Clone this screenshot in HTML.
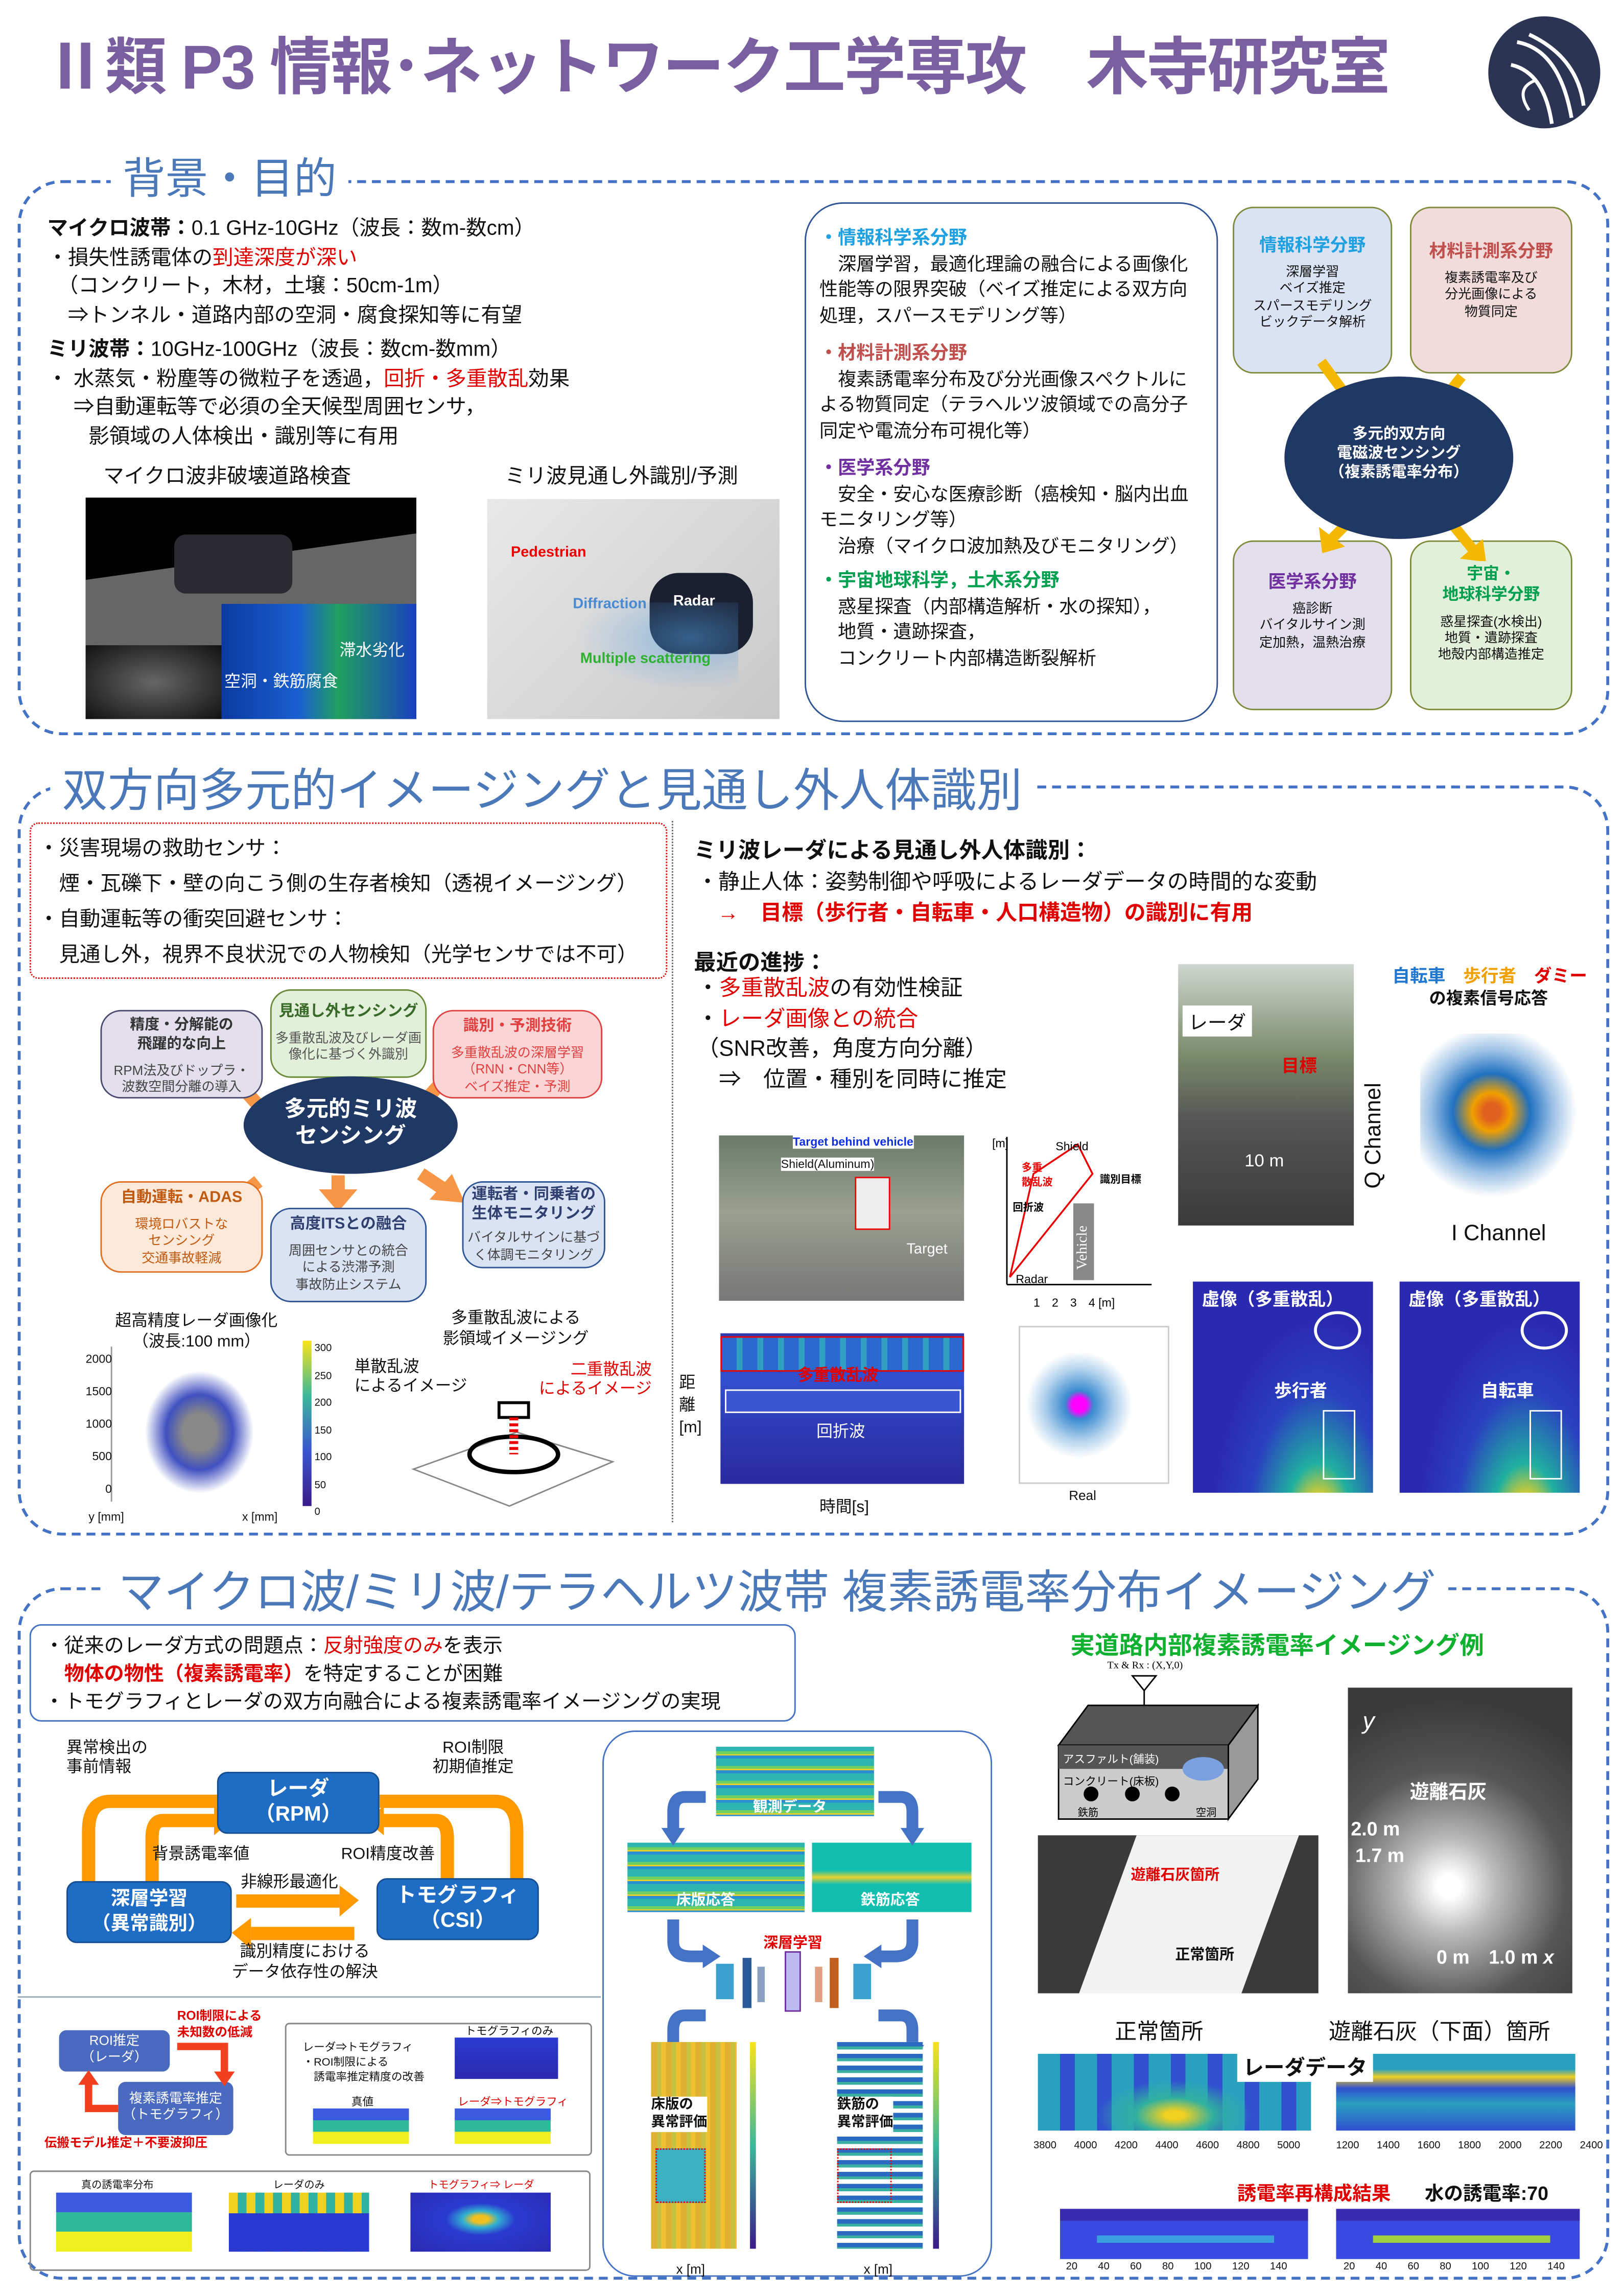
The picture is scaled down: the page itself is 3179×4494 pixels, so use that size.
<!DOCTYPE html>
<html><head><meta charset="utf-8">
<style>
html,body{margin:0;padding:0;width:3179px;height:4494px;overflow:hidden;background:#fff}
#w{position:absolute;left:0;top:0;width:1100px;height:1555px;transform:scale(2.89);transform-origin:0 0;font-family:"Liberation Sans","Noto Sans CJK JP",sans-serif;color:#111}
.a{position:absolute;white-space:nowrap}
.dash{position:absolute;border:2.5px dashed #4472c4;border-radius:30px}
.h{position:absolute;background:#fff;color:#4a78b8;padding:0 8px;white-space:nowrap}
.r{color:#e00000}
.b{font-weight:bold}
.bx{position:absolute;border-radius:14px;text-align:center;font-size:9px;line-height:1.25}
.bx b{display:block;font-size:10.5px;margin:4px 0 5px}
.parula{background:linear-gradient(180deg,#2f3ab0,#3050d0 30%,#2d3bb5 60%,#2a2aa0)}
.jet{background:repeating-linear-gradient(180deg,#2db5b0 0 3px,#6fcf60 3px 5px,#e6d030 5px 6px,#2a8fd0 6px 8px,#2db5b0 8px 10px)}
.fb{position:absolute;background:#1e6cc4;color:#fff;border-radius:7px;text-align:center;font-weight:bold;border:1.5px solid #154f93}
</style></head><body><div id="w">

<!-- Title -->
<div class="a b" style="left:30px;top:12px;font-size:42px;color:#7a5fa0;letter-spacing:-1px">Ⅱ類 P3 情報･ネットワーク工学専攻　木寺研究室</div>
<svg class="a" style="left:1005px;top:8px" width="82" height="82" viewBox="0 0 80 80"><circle cx="40" cy="40" r="37" fill="#2b3553"/><path d="M22 20 Q50 25 58 70 M30 15 Q62 30 66 62 M18 35 Q40 40 45 74" stroke="#fff" stroke-width="2.5" fill="none"/><path d="M35 45 Q20 50 30 65" stroke="#fff" stroke-width="2" fill="none"/></svg>

<!-- Section 1 -->
<div class="dash" style="left:12px;top:122px;width:1074px;height:372px"></div>
<div class="h" style="left:75px;top:98px;font-size:29px">背景・目的</div>
<div class="a" style="left:32px;top:145px;font-size:14px;line-height:19.5px">
<b>マイクロ波帯：</b>0.1 GHz-10GHz（波長：数m-数cm）<br>・損失性誘電体の<span class="r">到達深度が深い</span><br>　（コンクリート，木材，土壌：50cm-1m）<br>　⇒トンネル・道路内部の空洞・腐食探知等に有望<br>
<div style="height:4px"></div><b>ミリ波帯：</b>10GHz-100GHz（波長：数cm-数mm）<br>・ 水蒸気・粉塵等の微粒子を透過，<span class="r">回折・多重散乱</span>効果<br>　 ⇒自動運転等で必須の全天候型周囲センサ，<br>　　影領域の人体検出・識別等に有用</div>
<div class="a" style="left:70px;top:312px;font-size:14px">マイクロ波非破壊道路検査</div>
<div class="a" style="left:342px;top:312px;font-size:14px">ミリ波見通し外識別/予測</div>
<div class="a" style="left:58px;top:337px;width:224px;height:150px;background:#000;overflow:hidden">
<div style="position:absolute;left:0;top:40px;width:224px;height:60px;background:#666;transform:skewY(-8deg)"></div>
<div style="position:absolute;left:60px;top:25px;width:80px;height:40px;background:#2a2a30;border-radius:8px"></div>
<div style="position:absolute;left:92px;top:72px;width:132px;height:78px;background:linear-gradient(90deg,#0a3aa0,#1a60d0 40%,#20a060 60%,#1840c0)"></div>
<div style="position:absolute;left:0;top:100px;width:92px;height:50px;background:radial-gradient(#666,#111)"></div>
<div class="a" style="left:172px;top:95px;font-size:11px;color:#fff">滞水劣化</div>
<div class="a" style="left:94px;top:116px;font-size:11px;color:#fff">空洞・鉄筋腐食</div></div>
<div class="a" style="left:330px;top:338px;width:198px;height:149px;background:linear-gradient(135deg,#e8e8e8,#c8c8c8);overflow:hidden">
<div style="position:absolute;left:110px;top:50px;width:70px;height:55px;background:#1a2030;border-radius:20px"></div>
<div style="position:absolute;left:60px;top:70px;width:110px;height:60px;background:radial-gradient(ellipse at 70% 40%,rgba(80,160,230,.5),transparent 70%)"></div>
<div class="a b" style="left:16px;top:31px;font-size:10px;color:#e00">Pedestrian</div>
<div class="a b" style="left:58px;top:66px;font-size:10px;color:#4a8ad0">Diffraction</div>
<div class="a b" style="left:126px;top:64px;font-size:10px;color:#fff">Radar</div>
<div class="a b" style="left:63px;top:103px;font-size:10px;color:#30b030">Multiple scattering</div></div>

<div class="a" style="left:545px;top:137px;width:278px;height:350px;border:1.5px solid #2f5597;border-radius:26px"></div>
<div class="a" style="left:555px;top:153px;font-size:12.5px;line-height:17.5px">
<b style="color:#1fa0e0">・情報科学系分野</b><br>　深層学習，最適化理論の融合による画像化<br>性能等の限界突破（ベイズ推定による双方向<br>処理，スパースモデリング等）<br><div style="height:8px"></div>
<b style="color:#c0504d">・材料計測系分野</b><br>　複素誘電率分布及び分光画像スペクトルに<br>よる物質同定（テラヘルツ波領域での高分子<br>同定や電流分布可視化等）<br><div style="height:8px"></div>
<b style="color:#7030a0">・医学系分野</b><br>　安全・安心な医療診断（癌検知・脳内出血<br>モニタリング等）<br>　治療（マイクロ波加熱及びモニタリング）<br><div style="height:6px"></div>
<b style="color:#00a050">・宇宙地球科学，土木系分野</b><br>　惑星探査（内部構造解析・水の探知），<br>　地質・遺跡探査，<br>　コンクリート内部構造断裂解析</div>

<div class="bx" style="left:835px;top:140px;width:106px;height:111px;background:#dae3f3;border:1.5px solid #7f8a3a"><b style="color:#1fa0e0;font-size:12px;margin-top:18px">情報科学分野</b>深層学習<br>ベイズ推定<br>スパースモデリング<br>ビックデータ解析</div>
<div class="bx" style="left:955px;top:140px;width:108px;height:111px;background:#f2dcdb;border:1.5px solid #7f8a3a"><b style="color:#c0504d;font-size:12px;margin-top:22px">材料計測系分野</b>複素誘電率及び<br>分光画像による<br>物質同定</div>
<div class="bx" style="left:835px;top:366px;width:106px;height:113px;background:#e4dfec;border:1.5px solid #7f8a3a"><b style="color:#7030a0;font-size:12px;margin-top:20px">医学系分野</b>癌診断<br>バイタルサイン測<br>定加熱，温熱治療</div>
<div class="bx" style="left:955px;top:366px;width:108px;height:113px;background:#e2f0d9;border:1.5px solid #7f8a3a"><b style="color:#00a050;font-size:11px;margin-top:16px">宇宙・<br>地球科学分野</b>惑星探査(水検出)<br>地質・遺跡探査<br>地殻内部構造推定</div>
<svg class="a" style="left:860px;top:240px" width="180" height="140"><g stroke="#f5b800" stroke-width="7" fill="#f5b800">
<line x1="35" y1="5" x2="55" y2="32"/><polygon points="46,36 62,38 60,24" stroke-width="1"/>
<line x1="130" y1="15" x2="118" y2="30"/><polygon points="110,22 112,38 126,32" stroke-width="1"/>
<line x1="55" y1="112" x2="42" y2="125"/><polygon points="34,118 36,134 50,130" stroke-width="1"/>
<line x1="118" y1="108" x2="140" y2="135"/><polygon points="130,138 146,140 144,126" stroke-width="1"/></g></svg>
<div class="a" style="left:870px;top:255px;width:155px;height:110px;border-radius:50%;background:#1f3864;color:#fff;text-align:center;font-weight:bold;font-size:10.5px;line-height:13px;padding-top:33px;box-sizing:border-box">多元的双方向<br>電磁波センシング<br>（複素誘電率分布）</div>

<!-- Section 2 -->
<div class="dash" style="left:12px;top:532px;width:1074px;height:504px"></div>
<div class="h" style="left:34px;top:510px;font-size:31px">双方向多元的イメージングと見通し外人体識別</div>
<div class="a" style="left:20px;top:557px;width:430px;height:104px;border:1.5px dotted #e00000;border-radius:6px"></div>
<div class="a" style="left:26px;top:562px;font-size:14px;line-height:24px">・災害現場の救助センサ：<br>　煙・瓦礫下・壁の向こう側の生存者検知（透視イメージング）<br>・自動運転等の衝突回避センサ：<br>　見通し外，視界不良状況での人物検知（光学センサでは不可）</div>
<div class="a" style="left:455px;top:556px;height:475px;border-left:1px dotted #666"></div>

<svg class="a" style="left:60px;top:660px" width="360" height="230"><g stroke="#f79646" stroke-width="9" fill="#f79646">
<line x1="100" y1="72" x2="118" y2="92"/><polygon points="108,98 130,104 124,82" stroke-width="1"/>
<line x1="169" y1="62" x2="169" y2="78"/><polygon points="157,76 181,76 169,92" stroke-width="1"/>
<line x1="240" y1="72" x2="222" y2="92"/><polygon points="232,98 210,104 216,82" stroke-width="1"/>
<line x1="115" y1="140" x2="100" y2="152"/><polygon points="90,144 92,165 110,156" stroke-width="1"/>
<line x1="169" y1="136" x2="169" y2="148"/><polygon points="157,146 181,146 169,160" stroke-width="1"/>
<line x1="225" y1="135" x2="240" y2="145"/><polygon points="232,152 254,154 246,136" stroke-width="1"/></g></svg>
<div class="bx" style="left:68px;top:684px;width:108px;height:58px;background:#e4dfec;border:1.5px solid #4a4a70;color:#444"><b style="color:#333;font-size:10px;margin:4px 0 6px">精度・分解能の<br>飛躍的な向上</b>RPM法及びドップラ・<br>波数空間分離の導入</div>
<div class="bx" style="left:183px;top:670px;width:104px;height:58px;background:#e2f0d9;border:1.5px solid #6a8a3a;color:#555"><b style="color:#3a6a2a;margin:8px 0 6px">見通し外センシング</b>多重散乱波及びレーダ画<br>像化に基づく外識別</div>
<div class="bx" style="left:293px;top:684px;width:113px;height:58px;background:#f9d5d5;border:1.5px solid #e04040;color:#e04040"><b style="margin:4px 0 6px">識別・予測技術</b>多重散乱波の深層学習<br>（RNN・CNN等）<br>ベイズ推定・予測</div>
<div class="a" style="left:165px;top:729px;width:145px;height:66px;border-radius:50%;background:#1f3864;color:#fff;text-align:center;font-weight:bold;font-size:15px;line-height:18px;padding-top:14px;box-sizing:border-box">多元的ミリ波<br>センシング</div>
<div class="bx" style="left:68px;top:800px;width:108px;height:60px;background:#fde9d9;border:1.5px solid #e07020;color:#c05a10"><b style="margin:4px 0 6px">自動運転・ADAS</b>環境ロバストな<br>センシング<br>交通事故軽減</div>
<div class="bx" style="left:183px;top:818px;width:104px;height:62px;background:#dae3f3;border:1.5px solid #2f5597;color:#444"><b style="color:#2f3f6f;margin:4px 0 6px">高度ITSとの融合</b>周囲センサとの統合<br>による渋滞予測<br>事故防止システム</div>
<div class="bx" style="left:313px;top:800px;width:95px;height:57px;background:#dae3f3;border:1.5px solid #2f5597;color:#444"><b style="color:#2f3f6f;margin:2px 0 4px">運転者・同乗者の<br>生体モニタリング</b>バイタルサインに基づ<br>く体調モニタリング</div>

<div class="a" style="left:78px;top:888px;font-size:11px;line-height:14px;text-align:center">超高精度レーダ画像化<br>（波長:100 mm）</div>
<div class="a" style="left:95px;top:925px;width:80px;height:90px;background:radial-gradient(ellipse,#888 20%,#4050c0 40%,transparent 65%)"></div>
<div class="a" style="left:75px;top:912px;height:105px;border-left:1px solid #999"></div>
<div class="a" style="left:58px;top:910px;font-size:8px;line-height:22px;text-align:right">2000<br>1500<br>1000<br>500<br>0</div>
<div class="a" style="left:205px;top:908px;width:6px;height:112px;background:linear-gradient(#f9e31a,#3bb89a,#3a56d0,#3a1a8a)"></div>
<div class="a" style="left:213px;top:905px;font-size:7px;line-height:18.5px">300<br>250<br>200<br>150<br>100<br>50<br>0</div>
<div class="a" style="left:300px;top:886px;font-size:11px;line-height:14px;text-align:center">多重散乱波による<br>影領域イメージング</div>
<div class="a" style="left:240px;top:920px;font-size:11px;line-height:13px">単散乱波<br>によるイメージ</div>
<div class="a r" style="left:365px;top:922px;font-size:11px;line-height:13px;text-align:right">二重散乱波<br>によるイメージ</div>
<svg class="a" style="left:270px;top:945px" width="150" height="80"><polygon points="10,50 80,25 145,45 75,75" fill="none" stroke="#888"/><ellipse cx="78" cy="40" rx="30" ry="12" fill="none" stroke="#000" stroke-width="3"/><rect x="68" y="5" width="20" height="10" fill="none" stroke="#000" stroke-width="2"/><line x1="78" y1="15" x2="78" y2="40" stroke="#e00" stroke-dasharray="2 2" stroke-width="6"/></svg>
<div class="a" style="left:60px;top:1022px;font-size:8px">y [mm]　　　　　　　　　　x [mm]</div>

<div class="a b" style="left:470px;top:565px;font-size:15px">ミリ波レーダによる見通し外人体識別：</div>
<div class="a" style="left:472px;top:586px;font-size:14.5px">・静止人体：姿勢制御や呼吸によるレーダデータの時間的な変動</div>
<div class="a b r" style="left:486px;top:607px;font-size:14.5px">→　目標（歩行者・自転車・人口構造物）の識別に有用</div>
<div class="a b" style="left:470px;top:641px;font-size:15px">最近の進捗：</div>
<div class="a" style="left:472px;top:660px;font-size:15px;line-height:20.5px">・<span class="r">多重散乱波</span>の有効性検証<br>・<span class="r">レーダ画像との統合</span><br>（SNR改善，角度方向分離）<br>　⇒　位置・種別を同時に推定</div>
<div class="a" style="left:798px;top:653px;width:119px;height:177px;background:linear-gradient(180deg,#cfd6cf,#7a8a6a 35%,#555 60%,#3a3a3a)">
<div class="a" style="left:3px;top:28px;background:#fff;font-size:13px;padding:1px 4px">レーダ</div>
<div class="a b r" style="left:70px;top:60px;font-size:12px">目標</div>
<div class="a" style="left:45px;top:126px;color:#fff;font-size:12px">10 m</div></div>
<div class="a b" style="left:943px;top:652px;font-size:12px"><span style="color:#1f77d0">自転車</span>　<span style="color:#f0a000">歩行者</span>　<span class="r">ダミー</span></div>
<div class="a b" style="left:968px;top:668px;font-size:11.5px">の複素信号応答</div>
<div class="a" style="left:962px;top:700px;width:115px;height:118px;background:radial-gradient(circle at 42% 45%,#e06020 6%,#f0a000 14%,#2070c0 28%,rgba(40,120,200,.45) 45%,transparent 62%)"></div>
<div class="a" style="left:922px;font-size:15px;transform:rotate(-90deg);transform-origin:left top;top:805px">Q Channel</div>
<div class="a" style="left:983px;top:827px;font-size:15px">I Channel</div>

<div class="a" style="left:487px;top:769px;width:166px;height:112px;background:linear-gradient(180deg,#6a7a6a,#9aa090 45%,#777 100%)">
<div class="a b" style="left:50px;top:0;font-size:8px;color:#1030e0;background:#fff">Target behind vehicle</div>
<div class="a" style="left:42px;top:15px;font-size:8px;background:#fff">Shield(Aluminum)</div>
<div class="a" style="left:92px;top:28px;width:22px;height:34px;border:1.5px solid #e00;background:#eee"></div>
<div class="a" style="left:127px;top:72px;font-size:10px;color:#fff">Target</div></div>
<svg class="a" style="left:670px;top:765px" width="125" height="125"><line x1="12" y1="5" x2="12" y2="105" stroke="#000"/><line x1="12" y1="105" x2="110" y2="105" stroke="#000"/><rect x="57" y="50" width="14" height="52" fill="#888"/><text x="66" y="95" font-size="10" fill="#fff" transform="rotate(-90 66 95)" font-family="Liberation Serif">Vehicle</text><polyline points="14,100 30,30 60,10 70,30 14,100" fill="none" stroke="#e00" stroke-width="1.2"/><text x="2" y="12" font-size="8">[m]</text><text x="45" y="14" font-size="8">Shield</text><text x="75" y="36" font-size="7" font-weight="bold">識別目標</text><text x="22" y="28" font-size="7" fill="#e00" font-weight="bold">多重</text><text x="22" y="38" font-size="7" fill="#e00" font-weight="bold">散乱波</text><text x="16" y="55" font-size="7" font-weight="bold">回折波</text><text x="18" y="104" font-size="8">Radar</text><text x="30" y="120" font-size="8">1　2　3　4 [m]</text></svg>
<div class="a parula" style="left:488px;top:903px;width:165px;height:102px"><div class="a" style="left:0;top:2px;width:163px;height:22px;border:1px solid #e00;background:repeating-linear-gradient(90deg,#2a6ad0 0 10px,#30a0c0 10px 14px)"></div><div class="a" style="left:3px;top:38px;width:158px;height:14px;border:1px solid #fff;background:#3a56d0"></div><div class="a b r" style="left:52px;top:20px;font-size:11px">多重散乱波</div><div class="a" style="left:65px;top:58px;font-size:11px;color:#fff">回折波</div></div>
<div class="a" style="left:460px;top:930px;font-size:11px;line-height:15px">距<br>離<br>[m]</div>
<div class="a" style="left:555px;top:1012px;font-size:11px">時間[s]</div>
<div class="a" style="left:690px;top:898px;width:100px;height:105px;border:1px solid #ccc;background:radial-gradient(circle at 40% 50%,#f0f 6%,#3a8ad0 12%,rgba(60,140,210,.4) 30%,transparent 45%)"></div>
<div class="a" style="left:724px;top:1008px;font-size:9px">Real</div>
<div class="a" style="left:808px;top:868px;width:122px;height:143px;background:radial-gradient(ellipse at 70% 120%,#f0d020 10%,#20b0a0 20%,#2a40c0 40%,#2a2ab0 60%)"><div class="a b" style="left:6px;top:3px;font-size:12px;color:#fff">虚像（多重散乱）</div><div class="a" style="left:82px;top:20px;width:28px;height:22px;border:2px solid #fff;border-radius:50%"></div><div class="a b" style="left:55px;top:65px;font-size:12px;color:#fff">歩行者</div><div class="a" style="left:88px;top:87px;width:20px;height:45px;border:1px solid #fff"></div></div>
<div class="a" style="left:948px;top:868px;width:122px;height:143px;background:radial-gradient(ellipse at 70% 120%,#f0d020 10%,#20b0a0 20%,#2a40c0 40%,#2a2ab0 60%)"><div class="a b" style="left:6px;top:3px;font-size:12px;color:#fff">虚像（多重散乱）</div><div class="a" style="left:82px;top:20px;width:28px;height:22px;border:2px solid #fff;border-radius:50%"></div><div class="a b" style="left:55px;top:65px;font-size:12px;color:#fff">自転車</div><div class="a" style="left:88px;top:87px;width:20px;height:45px;border:1px solid #fff"></div></div>

<!-- Section 3 -->
<div class="dash" style="left:12px;top:1075px;width:1074px;height:465px"></div>
<div class="h" style="left:72px;top:1053px;font-size:31px">マイクロ波/ミリ波/テラヘルツ波帯 複素誘電率分布イメージング</div>
<div class="a" style="left:20px;top:1100px;width:517px;height:64px;border:1.5px solid #4472c4;border-radius:8px"></div>
<div class="a" style="left:30px;top:1105px;font-size:13.5px;line-height:19px">・従来のレーダ方式の問題点：<span class="r">反射強度のみ</span>を表示<br>　<b class="r">物体の物性（複素誘電率）</b>を特定することが困難<br>・トモグラフィとレーダの双方向融合による複素誘電率イメージングの実現</div>

<svg class="a" style="left:45px;top:1195px" width="320" height="130"><g fill="none" stroke="#ff9900" stroke-width="9">
<path d="M102 25 H30 Q15 25 15 45 V90"/><path d="M112 38 H65 Q58 38 58 50 V80"/>
<path d="M212 25 H290 Q305 25 305 45 V90"/><path d="M205 38 H250 Q258 38 258 50 V80"/></g>
<g fill="#ff9900"><polygon points="5,88 25,88 15,102"/><polygon points="295,88 315,88 305,102"/><polygon points="100,28 112,38 100,48"/><polygon points="215,28 203,38 215,48"/>
<rect x="115" y="88" width="70" height="9"/><polygon points="185,82 198,92 185,103"/><rect x="125" y="110" width="70" height="9"/><polygon points="125,104 112,114 125,125"/></g></svg>
<div class="fb" style="left:147px;top:1200px;width:108px;height:38px;font-size:14px;line-height:17px;padding-top:2px">レーダ<br>（RPM）</div>
<div class="fb" style="left:45px;top:1274px;width:110px;height:38px;font-size:13px;line-height:17px;padding-top:2px">深層学習<br>（異常識別）</div>
<div class="fb" style="left:255px;top:1272px;width:108px;height:38px;font-size:14px;line-height:17px;padding-top:2px">トモグラフィ<br>（CSI）</div>
<div class="a" style="left:45px;top:1178px;font-size:11px;line-height:13px">異常検出の<br>事前情報</div>
<div class="a" style="left:293px;top:1178px;font-size:11px;line-height:13px;text-align:center">ROI制限<br>初期値推定</div>
<div class="a" style="left:103px;top:1247px;font-size:11px">背景誘電率値</div>
<div class="a" style="left:231px;top:1247px;font-size:11px">ROI精度改善</div>
<div class="a" style="left:163px;top:1266px;font-size:11px">非線形最適化</div>
<div class="a" style="left:157px;top:1315px;font-size:11px;line-height:14px;text-align:center">識別精度における<br>データ依存性の解決</div>
<div class="a" style="left:12px;top:1352px;width:395px;border-top:1px solid #9ab"></div>

<div class="a r b" style="left:120px;top:1360px;font-size:8.5px;line-height:11px">ROI制限による<br>未知数の低減</div>
<div class="bx" style="left:40px;top:1375px;width:75px;height:28px;background:#4a6ac0;border-radius:5px;color:#fff;font-size:9px;padding-top:2px;box-sizing:border-box">ROI推定<br>（レーダ）</div>
<div class="bx" style="left:80px;top:1410px;width:78px;height:36px;background:#4a6ac0;border-radius:5px;color:#fff;font-size:9px;padding-top:6px;box-sizing:border-box">複素誘電率推定<br>（トモグラフィ）</div>
<svg class="a" style="left:50px;top:1378px" width="120" height="60"><path d="M70 8 H102 V27" stroke="#f04020" stroke-width="5" fill="none"/><polygon points="95,25 109,25 102,35" fill="#f04020"/><path d="M30 50 H10 V32" stroke="#f04020" stroke-width="5" fill="none"/><polygon points="3,34 17,34 10,24" fill="#f04020"/></svg>
<div class="a r b" style="left:30px;top:1445px;font-size:8.5px">伝搬モデル推定＋不要波抑圧</div>
<div class="a" style="left:193px;top:1370px;width:206px;height:88px;border:1px solid #888;border-radius:3px"></div>
<div class="a" style="left:205px;top:1382px;font-size:7.5px;line-height:10px">レーダ⇒トモグラフィ<br>・ROI制限による<br>　誘電率推定精度の改善</div>
<div class="a" style="left:315px;top:1370px;font-size:7.5px">トモグラフィのみ</div>
<div class="a" style="left:308px;top:1380px;width:70px;height:28px;background:linear-gradient(#2a3ad0,#2a2ab0)"></div>
<div class="a" style="left:238px;top:1418px;font-size:7.5px">真値</div>
<div class="a r" style="left:310px;top:1418px;font-size:7.5px">レーダ⇒トモグラフィ</div>
<div class="a" style="left:212px;top:1428px;width:65px;height:24px;background:linear-gradient(#3a5ae0 33%,#30b89a 33% 66%,#f0f020 66%)"></div>
<div class="a" style="left:308px;top:1428px;width:65px;height:24px;background:linear-gradient(#3a5ae0 33%,#30b89a 33% 66%,#f0f020 66%)"></div>
<div class="a" style="left:20px;top:1470px;width:378px;height:66px;border:1px solid #888;border-radius:3px"></div>
<div class="a" style="left:55px;top:1475px;font-size:7px">真の誘電率分布</div><div class="a" style="left:185px;top:1475px;font-size:7px">レーダのみ</div><div class="a r" style="left:290px;top:1475px;font-size:7px">トモグラフィ⇒ レーダ</div>
<div class="a" style="left:38px;top:1485px;width:92px;height:40px;background:linear-gradient(#3a5ae0 33%,#30b89a 33% 66%,#f0f020 66%)"></div>
<div class="a" style="left:155px;top:1485px;width:95px;height:40px;background:repeating-linear-gradient(90deg,#f0d020 0 6px,#30b0a0 6px 12px)"><div style="position:absolute;left:0;top:14px;width:95px;height:26px;background:#2a3ad0"></div></div>
<div class="a" style="left:278px;top:1485px;width:95px;height:40px;background:radial-gradient(ellipse at 50% 45%,#f0c020 8%,#30b0d0 18%,#2a3ad0 35%,#2a2ab0)"></div>

<div class="a" style="left:408px;top:1172px;width:262px;height:368px;border:1.5px solid #4472c4;border-radius:22px"></div>
<div class="a jet" style="left:485px;top:1183px;width:107px;height:47px"><div class="a b" style="left:25px;top:32px;color:#fff;font-size:10px">観測データ</div></div>
<div class="a jet" style="left:425px;top:1248px;width:120px;height:47px"><div class="a b" style="left:33px;top:30px;color:#fff;font-size:10px">床版応答</div></div>
<div class="a" style="left:550px;top:1248px;width:108px;height:47px;background:linear-gradient(#12bfae 40%,#e8d030 50%,#12bfae 60%)"><div class="a b" style="left:33px;top:30px;color:#fff;font-size:10px">鉄筋応答</div></div>
<svg class="a" style="left:440px;top:1205px" width="200" height="330"><g stroke="#4472c4" stroke-width="8" fill="none"><path d="M38 12 H24 Q16 12 16 22 V35"/><path d="M155 12 H170 Q178 12 178 22 V35"/><path d="M16 95 V110 Q16 120 28 120 H38"/><path d="M178 95 V110 Q178 120 166 120 H155"/><path d="M38 160 H24 Q16 160 16 170 V182"/><path d="M155 160 H170 Q178 160 178 170 V182"/></g><g fill="#4472c4"><polygon points="8,33 24,33 16,45"/><polygon points="170,33 186,33 178,45"/><polygon points="36,112 48,120 36,128"/><polygon points="157,112 145,120 157,128"/><polygon points="8,180 24,180 16,192"/><polygon points="170,180 186,180 178,192"/></g></svg>
<div class="a b r" style="left:517px;top:1307px;font-size:10px">深層学習</div>
<svg class="a" style="left:480px;top:1318px" width="120" height="48"><rect x="5" y="12" width="12" height="24" fill="#3aa0d0"/><rect x="23" y="8" width="6" height="34" fill="#2a5a9a"/><rect x="33" y="14" width="5" height="24" fill="#8aa0c0"/><rect x="52" y="4" width="10" height="40" fill="#c0b8f0" stroke="#7030a0"/><rect x="72" y="14" width="5" height="24" fill="#e0a080"/><rect x="82" y="8" width="6" height="34" fill="#c06020"/><rect x="98" y="12" width="12" height="24" fill="#3aa0d0"/></svg>
<div class="a" style="left:441px;top:1383px;width:58px;height:140px;background:repeating-linear-gradient(90deg,#e0b030 0 4px,#c8c040 4px 7px,#f0c030 7px 10px)"><div class="a" style="left:3px;top:72px;width:32px;height:35px;background:#3ab0c0;border:1.5px dotted #e00"></div><div class="a b" style="left:0;top:37px;background:#fff;font-size:9.5px;line-height:12px">床版の<br>異常評価</div></div>
<div class="a" style="left:508px;top:1383px;width:4px;height:140px;background:linear-gradient(#f9e31a,#3bb89a,#3a1a8a)"></div>
<div class="a" style="left:567px;top:1383px;width:58px;height:140px;background:repeating-linear-gradient(180deg,#2a6ac0 0 3px,#3ab0a0 3px 5px,#fff 5px 8px)"><div class="a b" style="left:0;top:37px;background:#fff;font-size:9.5px;line-height:12px">鉄筋の<br>異常評価</div><div class="a" style="left:0;top:72px;width:35px;height:35px;border:1.5px dotted #e00"></div></div>
<div class="a" style="left:632px;top:1383px;width:4px;height:140px;background:linear-gradient(#f9e31a,#3bb89a,#3a1a8a)"></div>
<div class="a" style="left:458px;top:1532px;font-size:9px">x [m]</div><div class="a" style="left:585px;top:1532px;font-size:9px">x [m]</div>

<div class="a b" style="left:725px;top:1101px;font-size:16.5px;color:#10b030">実道路内部複素誘電率イメージング例</div>
<svg class="a" style="left:712px;top:1120px" width="180" height="115"><text x="38" y="10" font-size="7" font-family="Liberation Serif">Tx &amp; Rx : (X,Y,0)</text><path d="M55 15 l8 10 l8-10z M63 25 V45" stroke="#000" fill="none"/><polygon points="5,62 25,35 140,35 120,62" fill="#555" stroke="#000"/><rect x="5" y="62" width="115" height="50" fill="#ccc" stroke="#000"/><rect x="5" y="62" width="115" height="16" fill="#555"/><polygon points="120,62 140,35 140,85 120,112" fill="#999" stroke="#000"/><text x="8" y="74" font-size="7.5" fill="#fff">アスファルト(舗装)</text><text x="8" y="89" font-size="7.5">コンクリート(床板)</text><ellipse cx="103" cy="78" rx="14" ry="8" fill="#7aa0e0"/><circle cx="27" cy="95" r="5"/><circle cx="55" cy="95" r="5"/><circle cx="82" cy="95" r="5"/><text x="18" y="110" font-size="7">鉄筋</text><text x="98" y="110" font-size="7">空洞</text></svg>
<div class="a" style="left:703px;top:1243px;width:190px;height:107px;background:#3a3a3a;overflow:hidden"><div style="position:absolute;left:45px;top:-10px;width:110px;height:140px;background:#f2f2f2;transform:skewX(-20deg)"></div><div class="a b r" style="left:63px;top:18px;font-size:10px">遊離石灰箇所</div><div class="a b" style="left:93px;top:72px;font-size:10px">正常箇所</div></div>
<div class="a" style="left:913px;top:1143px;width:152px;height:207px;background:radial-gradient(circle at 45% 65%,#fff 5%,#bbb 20%,#555 50%,#3a3a3a 80%)"><div class="a b" style="left:42px;top:60px;font-size:13px;color:#fff">遊離石灰</div><div class="a b" style="left:2px;top:88px;font-size:13px;color:#fff">2.0 m</div><div class="a b" style="left:5px;top:106px;font-size:13px;color:#fff">1.7 m</div><div class="a b" style="left:60px;top:172px;font-size:13px;color:#fff">0 m　1.0 m <i>x</i></div><div class="a" style="left:10px;top:15px;font-size:16px;color:#fff;font-style:italic">y</div></div>
<div class="a" style="left:755px;top:1365px;font-size:15px">正常箇所</div>
<div class="a" style="left:900px;top:1365px;font-size:15px">遊離石灰（下面）箇所</div>
<div class="a" style="left:703px;top:1391px;width:185px;height:52px;background:radial-gradient(ellipse at 50% 80%,#f0d020 5%,#30b0a0 20%,transparent 40%),repeating-linear-gradient(90deg,#2aa0c0 0 15px,#3050d0 15px 25px)"></div>
<div class="a" style="left:905px;top:1391px;width:162px;height:52px;background:linear-gradient(#2aa0c0 20%,#f0d020 30%,#3050d0 45%,#2aa0c0 65%,#3050d0)"></div>
<div class="a b" style="left:838px;top:1390px;font-size:14px;background:#fff;padding:0 4px">レーダデータ</div>
<div class="a" style="left:700px;top:1450px;font-size:7px;word-spacing:10px">3800 4000 4200 4400 4600 4800 5000</div>
<div class="a" style="left:905px;top:1450px;font-size:7px;word-spacing:10px">1200 1400 1600 1800 2000 2200 2400</div>
<div class="a b r" style="left:838px;top:1475px;font-size:13px">誘電率再構成結果</div>
<div class="a b" style="left:965px;top:1475px;font-size:13px">水の誘電率:70</div>
<div class="a" style="left:718px;top:1496px;width:168px;height:34px;background:#3a4ae0"><div style="position:absolute;left:0;top:0;width:168px;height:8px;background:#3a2ab0"></div><div style="position:absolute;left:25px;top:18px;width:120px;height:5px;background:#3aa0e0"></div></div>
<div class="a" style="left:905px;top:1496px;width:165px;height:34px;background:#3a4ae0"><div style="position:absolute;left:0;top:0;width:165px;height:8px;background:#3a2ab0"></div><div style="position:absolute;left:25px;top:18px;width:120px;height:5px;background:#a0d040"></div></div>
<div class="a" style="left:722px;top:1532px;font-size:7px;word-spacing:12px">20 40 60 80 100 120 140</div>
<div class="a" style="left:910px;top:1532px;font-size:7px;word-spacing:12px">20 40 60 80 100 120 140</div>
</div></body></html>
